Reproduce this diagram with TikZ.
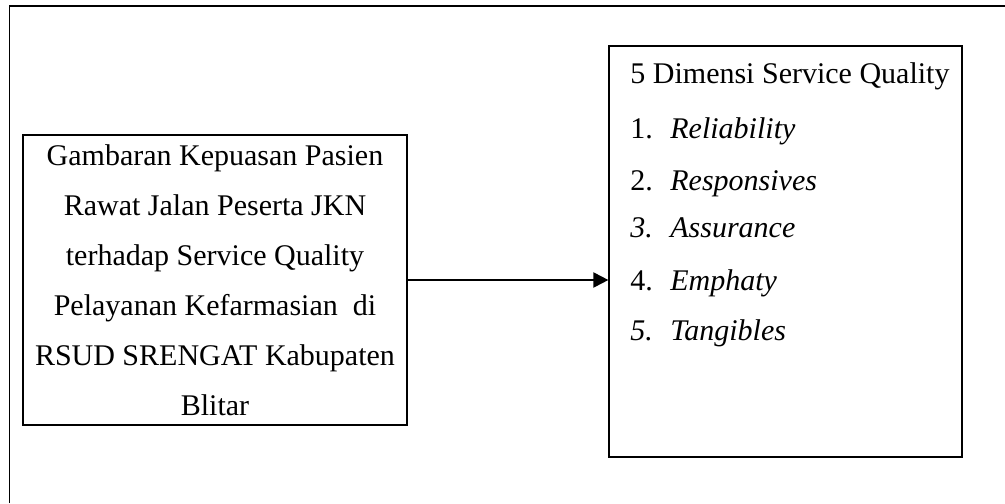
\documentclass[tikz,border=0pt]{standalone}
\usepackage{fontspec}
\setmainfont{Liberation Serif}
\usetikzlibrary{arrows.meta,positioning}

\begin{document}
\begin{tikzpicture}[x=0.5pt,y=-0.5pt,
  box/.style={draw, line width=0.6pt, inner sep=0pt},
  txt/.style={font=\fontsize{15pt}{25pt}\selectfont, inner sep=0pt},
  item/.style={txt, anchor=base west},
  flow/.style={line width=1pt, -{Triangle[length=7.5pt,width=7.5pt]}}]
\useasboundingbox (0,0) rectangle (1005,503);

%Shape: outer frame (runs past the page on the right and bottom)
\draw [line width=0.75pt] (9.5,503) -- (9.5,6) -- (1005,6) ;

%Shape: Rectangle, left box
\node [box, txt, align=center, minimum width=192pt, minimum height=145pt] (gambaran) at (215,280)
  {Gambaran Kepuasan Pasien\\ Rawat Jalan Peserta JKN\\ terhadap Service Quality\\
   Pelayanan Kefarmasian\ \ di\\ RSUD SRENGAT Kabupaten\\ Blitar};

%Shape: Rectangle, right box
\node [box, minimum width=176.5pt, minimum height=205.5pt] (dimensi) at (785.5,251.5) {};

% Text Node
\node [item] (judul) at (630,83) {5 Dimensi Service Quality};
% Text Node
\node [item] (reliability) at (630,138) {\makebox[20pt][l]{1.}\textit{Reliability}};
% Text Node
\node [item] (responsives) at (630,190) {\makebox[20pt][l]{2.}\textit{Responsives}};
% Text Node
\node [item] (assurance) at (630,237) {\makebox[20pt][l]{\textit{3.}}\textit{Assurance}};
% Text Node
\node [item] (emphaty) at (630,290) {\makebox[20pt][l]{4.}\textit{Emphaty}};
% Text Node
\node [item] (tangibles) at (630,340) {\makebox[20pt][l]{\textit{5.}}\textit{Tangibles}};

%Straight Lines
\draw [flow] (gambaran.east) -- (gambaran.east -| dimensi.west) ;

\end{tikzpicture}
\end{document}
